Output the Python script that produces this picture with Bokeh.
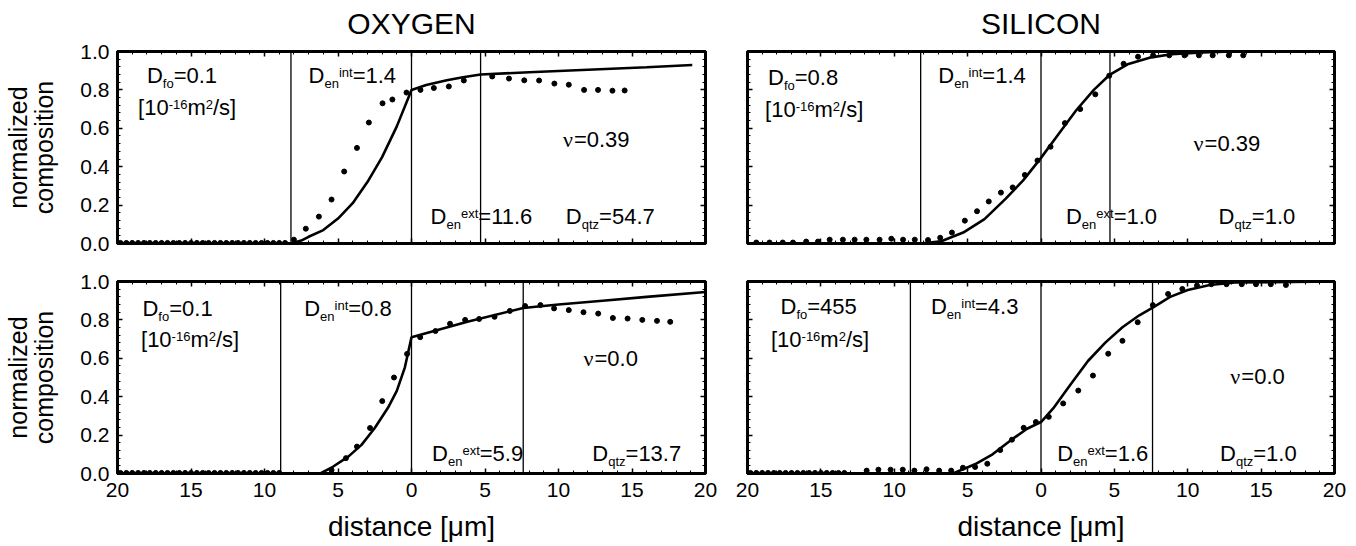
from bokeh.plotting import figure
from bokeh.layouts import column, row
from bokeh.models import (LinearAxis, FixedTicker, CustomJSTickFormatter, Range1d)
from bokeh.core.properties import value
from bokeh.embed import file_html
from bokeh.resources import INLINE

# ---------------- data ----------------
X_TICKS = [-20, -15, -10, -5, 0, 5, 10, 15, 20]
Y_TICKS = [0.0, 0.2, 0.4, 0.6, 0.8, 1.0]

# OXYGEN, top (nu = 0.39)
O_TOP_BOUNDS = [-8.2, 0.0, 4.7]
O_TOP_CURVE_X = [-20, -8.2, -7.5, -7, -6, -5, -4, -3, -2, -1, 0, 1, 2.4, 3.5, 4.7, 8, 12, 16, 19.1]
O_TOP_CURVE_Y = [0, 0, 0.015, 0.035, 0.07, 0.13, 0.21, 0.32, 0.45, 0.61, 0.80, 0.825, 0.85, 0.866, 0.88, 0.892, 0.905, 0.918, 0.93]
O_TOP_PTS_X = [-19.8, -19.4, -19.0, -18.6, -18.2, -17.8, -17.4, -17.0, -16.6, -16.2, -15.8, -15.4, -15.0,
               -14.6, -14.2, -13.8, -13.4, -13.0, -12.6, -12.2, -11.8, -11.4, -11.0, -10.6, -10.2, -9.8,
               -9.4, -9.0, -8.6, -8.0, -7.19, -6.30, -5.44, -4.58, -3.71, -2.9, -1.97, -1.3, -0.34,
               0.61, 1.52, 2.54, 3.56, 5.49, 6.63, 7.67, 8.68, 9.72, 10.7, 11.74, 12.69, 13.67, 14.5]
O_TOP_PTS_Y = [0.003] * 29 + [0.02, 0.077, 0.14, 0.229, 0.375, 0.498, 0.63, 0.73, 0.75, 0.786,
               0.80, 0.81, 0.818, 0.849, 0.87, 0.859, 0.85, 0.849, 0.833, 0.827, 0.80, 0.80, 0.796, 0.797]

# SILICON, top (nu = 0.39)
S_TOP_BOUNDS = [-8.2, 0.0, 4.7]
S_TOP_CURVE_X = [-20, -8.2, -6.8, -5.3, -3.85, -2.4, -1.2, 0, 1.2, 2.4, 3.6, 4.7, 5.9, 7.4, 8.9, 11.0, 13, 20]
S_TOP_CURVE_Y = [0, 0, 0.012, 0.057, 0.127, 0.234, 0.33, 0.446, 0.57, 0.694, 0.80, 0.88, 0.933, 0.968, 0.986, 0.995, 1.0, 1.0]
S_TOP_PTS_X = [-19.4, -18.5, -17.6, -16.9, -16.0, -15.2, -14.4, -13.5, -12.7, -11.9, -11.0, -10.2, -9.4, -8.6,
               -7.7, -6.87, -6.07, -5.19, -4.36, -3.56, -2.73, -1.93, -1.10, -0.24, 0.65, 1.63, 2.67, 3.70,
               4.65, 5.63, 6.61, 7.64, 8.74, 9.78, 10.76, 11.70, 12.80, 13.78]
S_TOP_PTS_Y = [0.005, 0.005, 0.005, 0.005, 0.01, 0.01, 0.02, 0.02, 0.02, 0.02, 0.02, 0.025, 0.02, 0.02,
               0.018, 0.03, 0.057, 0.119, 0.168, 0.219, 0.265, 0.292, 0.357, 0.432, 0.504, 0.627, 0.70, 0.777,
               0.874, 0.936, 0.973, 0.98, 0.98, 0.98, 0.98, 0.98, 0.98, 0.98]

# OXYGEN, bottom (nu = 0.0)
O_BOT_BOUNDS = [-8.9, 0.0, 7.6]
O_BOT_CURVE_X = [-20, -6.2, -5.35, -4.3, -3.4, -2.5, -1.6, -1.0, -0.45, 0, 3.8, 7.6, 10, 13, 16, 20]
O_BOT_CURVE_Y = [0, 0, 0.035, 0.088, 0.149, 0.237, 0.342, 0.43, 0.553, 0.71, 0.79, 0.862, 0.88, 0.90, 0.92, 0.945]
O_BOT_PTS_X = [-19.8, -19.4, -19.0, -18.6, -18.2, -17.8, -17.4, -17.0, -16.6, -16.2, -15.8, -15.4, -15.0,
               -14.6, -14.2, -13.8, -13.4, -13.0, -12.6, -12.2, -11.8, -11.4, -11.0, -10.6, -10.2, -9.8,
               -9.4, -9.0, -5.44, -4.46, -3.71, -2.82, -1.99, -1.19, -0.30, 0.59, 1.63, 2.62, 3.65, 4.6,
               5.65, 6.69, 7.73, 8.77, 9.7, 10.7, 11.7, 12.7, 13.7, 14.7, 15.7, 16.7, 17.6]
O_BOT_PTS_Y = [0.003] * 28 + [0.018, 0.08, 0.14, 0.237, 0.377, 0.50, 0.623, 0.71, 0.742, 0.78, 0.80, 0.805,
               0.816, 0.847, 0.872, 0.877, 0.86, 0.851, 0.84, 0.833, 0.81, 0.807, 0.80, 0.795, 0.79]

# SILICON, bottom (nu = 0.0)
S_BOT_BOUNDS = [-8.9, 0.0, 7.6]
S_BOT_CURVE_X = [-20, -6.0, -4.5, -3.3, -2.1, -0.95, 0, 0.83, 2.0, 3.2, 4.4, 5.55, 6.7, 7.7, 8.8, 10.0, 11.5, 13.2, 20]
S_BOT_CURVE_Y = [0, 0, 0.048, 0.10, 0.171, 0.233, 0.268, 0.339, 0.462, 0.586, 0.683, 0.762, 0.824, 0.868, 0.92, 0.956, 0.982, 0.995, 1.0]
S_BOT_PTS_X = [-19.8, -19.4, -19.0, -18.6, -18.2, -17.8, -17.4, -17.0, -16.6, -16.2, -15.8, -15.4, -15.0,
               -14.6, -14.2, -13.8, -13.4, -11.88, -11.08, -10.25, -9.42, -8.63, -7.8, -6.94, -6.12, -5.32,
               -4.49, -3.66, -2.78, -1.98, -1.18, -0.35, 0.53, 1.51, 2.54, 3.54, 4.58, 5.55, 6.59, 7.62,
               8.66, 9.63, 10.63, 11.61, 12.64, 13.68, 14.65, 15.66, 16.69]
S_BOT_PTS_Y = [0.003] * 17 + [0.015, 0.02, 0.02, 0.02, 0.015, 0.022, 0.015, 0.015, 0.03, 0.034, 0.051, 0.122,
               0.176, 0.238, 0.268, 0.295, 0.365, 0.432, 0.51, 0.624, 0.691, 0.788, 0.877, 0.935, 0.961,
               0.979, 0.986, 0.986, 0.986, 0.986, 0.986, 0.982]

# annotation texts: pieces (text, kind); kinds n=normal, sub, sup, g=greek
ANN_TL = [((-18.0, 0.875), [("D", "n"), ("fo", "sub"), ("=0.1", "n")]),
          ((-18.6, 0.71), [("[10", "n"), ("-16", "sup"), ("m", "n"), ("2", "sup"), ("/s]", "n")]),
          ((-7.0, 0.875), [("D", "n"), ("en", "sub"), ("int", "sup"), ("=1.4", "n")]),
          ((10.3, 0.54), [("ν", "g"), ("=0.39", "n")]),
          ((1.3, 0.14), [("D", "n"), ("en", "sub"), ("ext", "sup"), ("=11.6", "n")]),
          ((10.5, 0.14), [("D", "n"), ("qtz", "sub"), ("=54.7", "n")])]
ANN_TR = [((-18.6, 0.865), [("D", "n"), ("fo", "sub"), ("=0.8", "n")]),
          ((-18.8, 0.70), [("[10", "n"), ("-16", "sup"), ("m", "n"), ("2", "sup"), ("/s]", "n")]),
          ((-7.0, 0.875), [("D", "n"), ("en", "sub"), ("int", "sup"), ("=1.4", "n")]),
          ((10.4, 0.52), [("ν", "g"), ("=0.39", "n")]),
          ((1.7, 0.14), [("D", "n"), ("en", "sub"), ("ext", "sup"), ("=1.0", "n")]),
          ((12.1, 0.14), [("D", "n"), ("qtz", "sub"), ("=1.0", "n")])]
ANN_BL = [((-18.3, 0.86), [("D", "n"), ("fo", "sub"), ("=0.1", "n")]),
          ((-18.4, 0.70), [("[10", "n"), ("-16", "sup"), ("m", "n"), ("2", "sup"), ("/s]", "n")]),
          ((-7.3, 0.86), [("D", "n"), ("en", "sub"), ("int", "sup"), ("=0.8", "n")]),
          ((11.7, 0.60), [("ν", "g"), ("=0.0", "n")]),
          ((1.4, 0.104), [("D", "n"), ("en", "sub"), ("ext", "sup"), ("=5.9", "n")]),
          ((12.3, 0.104), [("D", "n"), ("qtz", "sub"), ("=13.7", "n")])]
ANN_BR = [((-17.75, 0.87), [("D", "n"), ("fo", "sub"), ("=455", "n")]),
          ((-18.4, 0.70), [("[10", "n"), ("-16", "sup"), ("m", "n"), ("2", "sup"), ("/s]", "n")]),
          ((-7.5, 0.87), [("D", "n"), ("en", "sub"), ("int", "sup"), ("=4.3", "n")]),
          ((12.9, 0.505), [("ν", "g"), ("=0.0", "n")]),
          ((1.1, 0.104), [("D", "n"), ("en", "sub"), ("ext", "sup"), ("=1.6", "n")]),
          ((12.2, 0.104), [("D", "n"), ("qtz", "sub"), ("=1.0", "n")])]

# ---------------- styling ----------------
FONT = "Liberation Sans"
MAIN_FS = 22
SMALL_FS = 13
CW = {'D': 0.722, '=': 0.584, '.': 0.278, 'f': 0.278, 'o': 0.556, 'e': 0.556, 'n': 0.556,
      'i': 0.222, 't': 0.278, 'x': 0.5, 'q': 0.556, 'z': 0.5, '[': 0.278, ']': 0.278,
      '-': 0.333, 'm': 0.833, '/': 0.278, 's': 0.5, 'ν': 0.5}


def tw(s, fs):
    return sum(CW.get(ch, 0.556) for ch in s) * fs


def rich(p, x, yc, parts, ppy):
    # vertical shifts (px, positive = up) of the small pieces' centres relative to the main centre
    shift = {"n": 0.0, "g": 0.0, "sub": -8.0, "sup": 3.0}
    off = 0.0
    for txt, kind in parts:
        fs = MAIN_FS if kind in ("n", "g") else SMALL_FS
        font = "Liberation Serif" if kind == "g" else FONT
        p.text(x=[x], y=[yc + shift[kind] / ppy], text=[txt], x_offset=off, text_font=value(font),
               text_font_size=f"{fs}px", text_baseline="middle", text_align="left",
               text_color="black")
        off += tw(txt, fs)


def hide_labels(ax):
    ax.formatter = CustomJSTickFormatter(code="return '';")
    ax.major_label_text_font_size = "0px"
    ax.major_label_text_color = None
    ax.major_label_text_alpha = 0
    ax.major_label_standoff = 0


def make_fig(top, left, title=None):
    p = figure(frame_width=588 if left else 587, frame_height=192,
               x_range=Range1d(-20, 20), y_range=Range1d(0, 1),
               min_border_left=117 if left else 21, min_border_right=21 if left else 14,
               min_border_top=51 if top else 19, min_border_bottom=19 if top else 65,
               output_backend="svg", toolbar_location=None,
               background_fill_color="white", border_fill_color="white",
               outline_line_color="black", outline_line_width=3)
    p.title = None
    p.grid.visible = False
    xt = FixedTicker(ticks=X_TICKS, minor_ticks=list(range(-20, 21)))
    yt = FixedTicker(ticks=Y_TICKS, minor_ticks=[i * 0.04 for i in range(26)])
    extra_top = LinearAxis(ticker=xt)
    extra_right = LinearAxis(ticker=yt)
    p.add_layout(extra_top, "above")
    p.add_layout(extra_right, "right")
    bx = p.below[0]
    ly = p.left[0]
    bx.ticker = xt
    ly.ticker = yt
    bx.formatter = CustomJSTickFormatter(code="return Math.abs(tick).toString();")
    ly.formatter = CustomJSTickFormatter(code="return tick.toFixed(1);")
    for ax in [bx, ly, extra_top, extra_right]:
        ax.axis_line_width = 3
        ax.axis_line_color = "black"
        ax.major_tick_in = 5
        ax.major_tick_out = 0
        ax.minor_tick_in = 3
        ax.minor_tick_out = 0
        ax.major_tick_line_color = "black"
        ax.minor_tick_line_color = "black"
        ax.major_tick_line_width = 1.5
        ax.minor_tick_line_width = 1
        ax.major_label_text_font = FONT
        ax.major_label_text_font_size = "21px"
        ax.major_label_text_color = "black"
    hide_labels(extra_top)
    hide_labels(extra_right)
    if title:
        extra_top.axis_label = title
        extra_top.axis_label_text_font = FONT
        extra_top.axis_label_text_font_size = "30px"
        extra_top.axis_label_text_font_style = "normal"
        extra_top.axis_label_text_color = "black"
        extra_top.axis_label_standoff = 12
    if top:
        hide_labels(bx)
    else:
        bx.major_label_standoff = 9
        bx.axis_label = "distance [μm]"
        bx.axis_label_text_font = FONT
        bx.axis_label_text_font_size = "28px"
        bx.axis_label_text_font_style = "normal"
        bx.axis_label_text_color = "black"
        bx.axis_label_standoff = 11
    if left:
        ly.major_label_standoff = 8
        ly.axis_label = "normalized\ncomposition"
        ly.axis_label_text_font = FONT
        ly.axis_label_text_font_size = "25px"
        ly.axis_label_text_font_style = "normal"
        ly.axis_label_text_color = "black"
        ly.axis_label_text_line_height = 0.95
        ly.axis_label_standoff = 19
    else:
        hide_labels(ly)
    return p


def fill(p, bounds, cx, cy, px, py, ann):
    p.segment(x0=bounds, y0=[0] * len(bounds), x1=bounds, y1=[1] * len(bounds),
              line_color="black", line_width=1.3)
    p.line(cx, cy, line_color="black", line_width=2.6)
    p.scatter(px, py, size=5, marker="circle", fill_color="black", line_color="black")
    for (x, y), parts in ann:
        rich(p, x, y, parts, 192.0)


p_tl = make_fig(True, True, "OXYGEN")
p_tr = make_fig(True, False, "SILICON")
p_bl = make_fig(False, True)
p_br = make_fig(False, False)

fill(p_tl, O_TOP_BOUNDS, O_TOP_CURVE_X, O_TOP_CURVE_Y, O_TOP_PTS_X, O_TOP_PTS_Y, ANN_TL)
fill(p_tr, S_TOP_BOUNDS, S_TOP_CURVE_X, S_TOP_CURVE_Y, S_TOP_PTS_X, S_TOP_PTS_Y, ANN_TR)
fill(p_bl, O_BOT_BOUNDS, O_BOT_CURVE_X, O_BOT_CURVE_Y, O_BOT_PTS_X, O_BOT_PTS_Y, ANN_BL)
fill(p_br, S_BOT_BOUNDS, S_BOT_CURVE_X, S_BOT_CURVE_Y, S_BOT_PTS_X, S_BOT_PTS_Y, ANN_BR)

layout = column(row(p_tl, p_tr), row(p_bl, p_br))
open("out.html", "w").write(file_html(layout, INLINE))
